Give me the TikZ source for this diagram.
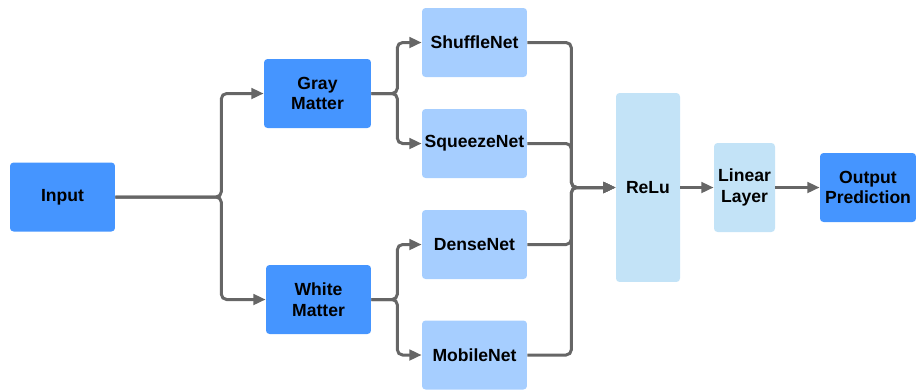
\documentclass[tikz,border=0pt]{standalone}
\usepackage{fontspec}
\setmainfont{Liberation Sans}
\usetikzlibrary{arrows.meta}
\definecolor{inblue}{RGB}{69,149,255}
\definecolor{netblue}{RGB}{166,206,255}
\definecolor{actblue}{RGB}{195,227,247}
\definecolor{wire}{RGB}{102,102,102}

\begin{document}
\begin{tikzpicture}[x=0.02cm, y=-0.02cm,
		box/.style={rectangle, rounded corners=2pt, inner sep=1pt, align=center, font=\fontsize{10}{11.8}\selectfont\bfseries},
		mainbox/.style={box, fill=inblue, minimum width=2.1cm, minimum height=1.38cm},
		netbox/.style={box, fill=netblue, minimum width=2.1cm, minimum height=1.38cm},
		headbox/.style={box, fill=actblue},
		link/.style={draw=wire, line width=1.7pt, rounded corners=3pt},
		arrow/.style={link, -{Triangle[length=7pt, width=6pt]}}]
		\useasboundingbox (0,0) rectangle (916,390);

		\node[mainbox] (input) at (62.5,197) {Input};
		\node[mainbox, minimum width=2.14cm] (gray) at (317.5,93.5) {Gray\\Matter};
		\node[mainbox] (white) at (318.5,299.5) {White\\Matter};

		\node[netbox] (shuffle) at (474.5,42.5) {ShuffleNet};
		\node[netbox] (squeeze) at (474.5,143.5) {SqueezeNet};
		\node[netbox] (dense) at (474.5,244.5) {DenseNet};
		\node[netbox] (mobile) at (474.5,355) {MobileNet};

		\node[headbox, minimum width=1.28cm, minimum height=3.78cm] (relu) at (648,187.5) {ReLu};
		\node[headbox, minimum width=1.22cm, minimum height=1.78cm] (linear) at (744.5,187.5) {Linear\\Layer};
		\node[mainbox, minimum width=1.92cm] (output) at (868,187.5) {Output\\Prediction};

		% input splits into the two matters
		\draw[arrow] (input.east) -- ++(106,0) |- (gray.west);
		\draw[arrow] (input.east) -- ++(106,0) |- (white.west);

		% each matter feeds two nets
		\draw[arrow] (gray.east) -- ++(26,0) |- (shuffle.west);
		\draw[arrow] (gray.east) -- ++(26,0) |- (squeeze.west);
		\draw[arrow] (white.east) -- ++(26,0) |- (dense.west);
		\draw[arrow] (white.east) -- ++(26,0) |- (mobile.west);

		% nets merge into the head
		\draw[arrow] (shuffle.east) -- ++(44,0) |- (relu.west);
		\draw[arrow] (squeeze.east) -- ++(44,0) |- (relu.west);
		\draw[arrow] (dense.east) -- ++(44,0) |- (relu.west);
		\draw[arrow] (mobile.east) -- ++(44,0) |- (relu.west);

		\draw[arrow] (relu) -- (linear);
		\draw[arrow] (linear) -- (output);
	\end{tikzpicture}
\end{document}
